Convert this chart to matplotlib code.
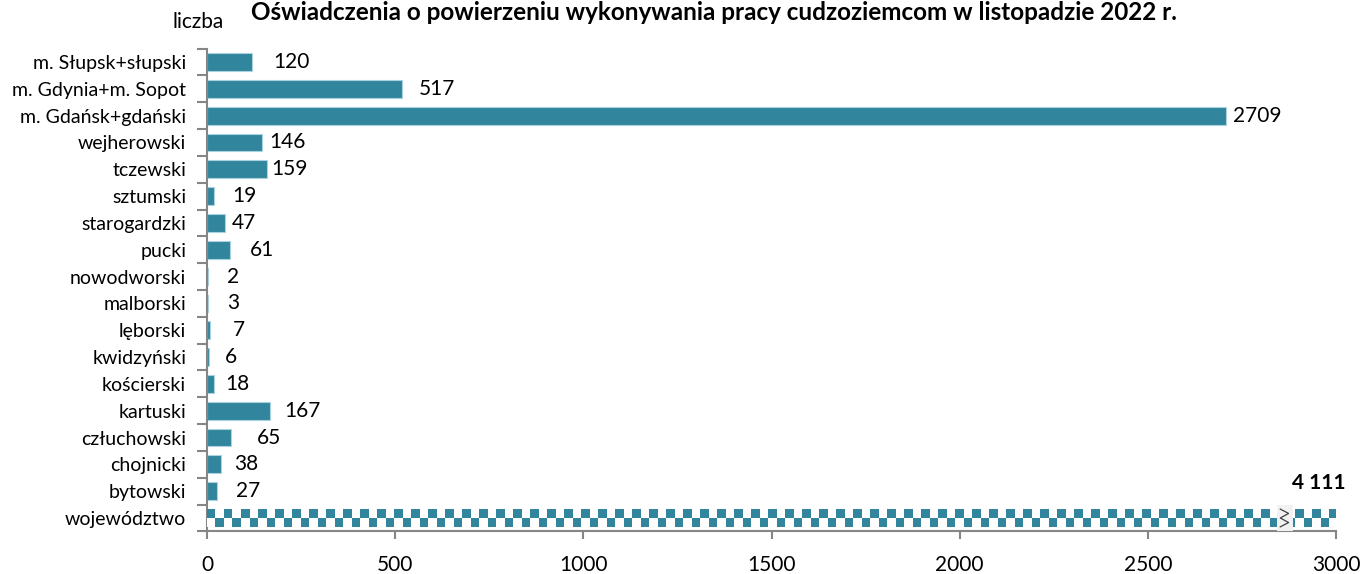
import matplotlib
matplotlib.use("Agg")
import matplotlib.pyplot as plt
import numpy as np
from matplotlib.transforms import offset_copy
from matplotlib.colors import ListedColormap

# ---- data (bottom to top) ----
categories = ["województwo", "bytowski", "chojnicki", "człuchowski", "kartuski",
              "kościerski", "kwidzyński", "lęborski", "malborski", "nowodworski",
              "pucki", "starogardzki", "sztumski", "tczewski", "wejherowski",
              "m. Gdańsk+gdański", "m. Gdynia+m. Sopot", "m. Słupsk+słupski"]
values = [4111, 27, 38, 65, 167, 18, 6, 7, 3, 2, 61, 47, 19, 159, 146, 2709, 517, 120]
value_labels = ["4 111", "27", "38", "65", "167", "18", "6", "7", "3", "2",
                "61", "47", "19", "159", "146", "2709", "517", "120"]
x_ticks = [0, 500, 1000, 1500, 2000, 2500, 3000]
title = "Oświadczenia o powierzeniu wykonywania pracy cudzoziemcom w listopadzie 2022 r."
y_unit = "liczba"

# label horizontal offsets in pixels (style)
label_offsets_px = [0, 19, 13, 25, 14, 11, 16, 23, 19, 19, 20, 7, 18, 4, 7, 7, 17, 21]

teal = "#31859C"
edge = "#A9D3E0"
grey = "#868686"
FONT = "Lato"

fig = plt.figure(figsize=(13.62, 5.74), dpi=100)
ax = fig.add_axes([207/1362, 1 - 531.4/574, (1336-207)/1362, (531.4-48.6)/574])

y = np.arange(len(categories))
bar_h = 0.66
bars = ax.barh(y, values, height=bar_h, color=teal, edgecolor=edge, linewidth=0.8, zorder=2)

# checkered bar for województwo
wb = bars[0]
wb.set_facecolor("white")
wb.set_edgecolor("none")
ncols = int(round(values[0] / 3000 * 1129 / 8.5))
checker = (np.indices((2, ncols)).sum(axis=0) + 1) % 2
cmap = ListedColormap(["white", teal])
ax.imshow(checker, cmap=cmap, aspect="auto", interpolation="nearest",
          extent=(0, values[0], y[0] - bar_h/2, y[0] + bar_h/2), zorder=3)

ax.set_xlim(0, 3000)
ax.set_ylim(-0.5, len(categories) - 0.5)

# axis break marker
bx0, bx1 = 2843, 2885
ax.add_patch(plt.Rectangle((bx0, y[0] - 0.48), bx1 - bx0, 0.98, facecolor="#F2F2F2",
                           edgecolor="none", zorder=4, clip_on=False))
zx = [2852, 2874, 2852, 2874, 2852]
zy = [y[0] + 0.33, y[0] + 0.17, y[0] + 0.0, y[0] - 0.17, y[0] - 0.33]
ax.plot(zx, zy, color="#404040", lw=0.9, zorder=5, clip_on=False)

# value labels
for i, (v, lab) in enumerate(zip(values, value_labels)):
    if i == 0:
        ax.text(0.985, y[0] + 1.3, lab, transform=ax.get_yaxis_transform(),
                ha="center", va="center", fontsize=15, fontweight="bold",
                family=FONT, color="black")
        continue
    tr = offset_copy(ax.transData, fig=fig, x=label_offsets_px[i] * 0.72, y=0, units="points")
    ax.text(v, y[i], lab, transform=tr, ha="left", va="center",
            fontsize=15, family=FONT, color="black")

# axes styling
for s in ["top", "right"]:
    ax.spines[s].set_visible(False)
for s in ["left", "bottom"]:
    ax.spines[s].set_color(grey)
    ax.spines[s].set_linewidth(1.5)

ax.set_yticks(y)
ax.set_yticklabels(categories, fontsize=14, family=FONT)
ax.tick_params(axis="y", which="major", length=0, pad=15)
ax.set_yticks(np.arange(-0.5, len(categories), 1.0), minor=True)
ax.tick_params(axis="y", which="minor", length=7, width=1.5, color=grey, direction="out")

ax.set_xticks(x_ticks)
ax.set_xticklabels([str(t) for t in x_ticks], fontsize=15, family=FONT)
ax.tick_params(axis="x", length=6, width=1.5, color=grey, pad=11)

fig.text(714/1362, 1 - 20/574, title, ha="center", va="baseline",
         fontsize=17.5, fontweight="bold", family=FONT)
fig.text(198/1362, 1 - 22/574, y_unit, ha="center", va="center", fontsize=15, family=FONT)

fig.savefig("out.png", dpi=100)
